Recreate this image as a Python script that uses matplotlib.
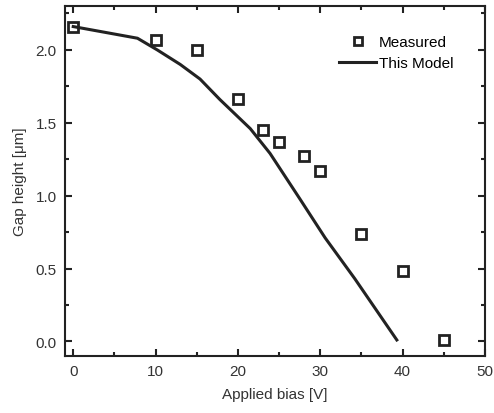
import matplotlib
matplotlib.use("Agg")
import matplotlib.pyplot as plt
from matplotlib.ticker import MultipleLocator

plt.rcParams['font.family'] = ['Liberation Sans', 'DejaVu Sans']

meas_x = [0, 10, 15, 20, 23, 25, 28, 30, 35, 40, 45]
meas_y = [2.16, 2.07, 2.00, 1.66, 1.45, 1.37, 1.27, 1.17, 0.74, 0.48, 0.01]

model_x = [0, 7.8, 10.2, 13.0, 15.4, 17.8, 21.5, 23.9, 27.5, 30.6, 34.2, 39.3]
model_y = [2.16, 2.08, 2.00, 1.90, 1.80, 1.66, 1.46, 1.29, 0.98, 0.71, 0.43, 0.01]

fig = plt.figure(figsize=(4.94, 4.14), dpi=100)
ax = fig.add_axes([0.1316, 0.1377, 0.850, 0.845])

ax.plot(meas_x, meas_y, linestyle='none', marker='s', markersize=6.5,
        markerfacecolor='white', markeredgecolor='#222222', markeredgewidth=2,
        label='Measured')
ax.plot(model_x, model_y, color='#222222', linewidth=2.2, label='This Model')

ax.set_xlim(-1, 50)
ax.set_ylim(-0.1, 2.3)
ax.xaxis.set_major_locator(MultipleLocator(10))
ax.xaxis.set_minor_locator(MultipleLocator(5))
ax.yaxis.set_major_locator(MultipleLocator(0.5))
ax.yaxis.set_minor_locator(MultipleLocator(0.25))
ax.yaxis.set_major_formatter(matplotlib.ticker.FormatStrFormatter('%.1f'))

ax.tick_params(which='both', direction='in', top=True, right=True, width=1.5,
               labelsize=11, colors='#222222', labelcolor='#333333')
ax.tick_params(which='major', length=5, pad=6)
ax.tick_params(which='minor', length=3)
for s in ax.spines.values():
    s.set_linewidth(1.5)
    s.set_color('#222222')

ax.set_xlabel('Applied bias [V]', fontsize=11, color='#333333', labelpad=6)
ax.set_ylabel('Gap height [\u03bcm]', fontsize=11, color='#333333', labelpad=6)

ax.legend(loc='upper right', frameon=False, fontsize=11, handlelength=2.4,
          handletextpad=0.2, borderaxespad=0.0, labelspacing=0.45,
          bbox_to_anchor=(0.94, 0.935), markerscale=0.9)

fig.savefig('out.png', dpi=100)
